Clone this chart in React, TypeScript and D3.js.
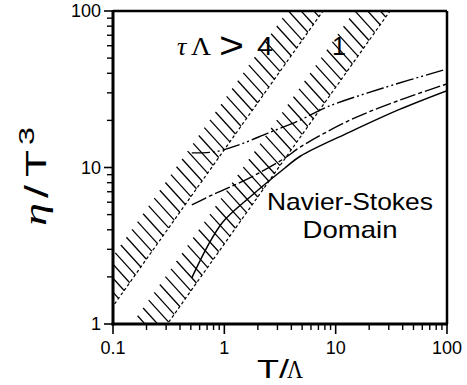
import React from 'react'
import * as d3 from 'd3'

const W = 467
const H = 385

// axes
const xMajor = [0.1, 1, 10, 100]
const xMajorLabels = ['0.1', '1', '10', '100']
const yMajor = [1, 10, 100]
const yMajorLabels = ['1', '10', '100']

// τΛ boundaries: η/T³ = k · T/Λ  (τΛ > 4 and τΛ = 1)
const bandK = [13, 3.25]

// curves
const solidT = [0.51, 0.7, 0.97, 1.7, 3.5, 4.8, 13.5, 37.9, 100]
const solidEta = [1.97, 3.1, 4.49, 6.48, 9.93, 11.8, 16.9, 23.6, 31]
const dashDotT = [0.51, 0.744, 1.125, 1.89, 3.5, 4.8, 13.5, 37.9, 100]
const dashDotEta = [5.76, 6.58, 7.5, 8.95, 11.5, 13.5, 20.1, 27, 34.2]
const dashDotDotT = [0.51, 0.825, 1.33, 2.47, 4.8, 8.4, 26.7, 100]
const dashDotDotEta = [12.4, 12.6, 13.9, 16.6, 20.1, 24.4, 32.2, 42.6]

const sans = '"Liberation Sans", Arial, Helvetica, sans-serif'
const serif = '"Liberation Serif", "DejaVu Serif", serif'

export default function App() {
    const x = d3.scaleLog().domain([0.1, 100]).range([113, 447])
    const y = d3.scaleLog().domain([1, 100]).range([324, 11])
    const [x0, x1] = x.range()
    const [y0, y1] = y.range()

    const minorOf = (majors: number[]) =>
        majors.slice(0, -1).flatMap((m) => d3.range(2, 10).map((k) => k * m))
    const xMinor = minorOf(xMajor)
    const yMinor = minorOf(yMajor)

    const line = d3
        .line<[number, number]>()
        .x((d) => x(d[0]))
        .y((d) => y(d[1]))
        .curve(d3.curveCatmullRom.alpha(0.5))

    const zip = (a: number[], b: number[]) => a.map((v, i) => [v, b[i]] as [number, number])

    // hatch bases along each boundary, every 0.05 decade in T/Λ
    const hatchLogs = d3.range(-1.4, 2.01, 0.05)
    const hatchDx = -20
    const hatchDy = -22

    return (
        <svg
            width={W}
            height={H}
            style={{ position: 'fixed', left: 0, top: 0, background: '#fff' }}
        >
            <defs>
                <clipPath id="plot">
                    <rect x={x0} y={y1} width={x1 - x0} height={y0 - y1} />
                </clipPath>
            </defs>
            <rect width={W} height={H} fill="#fff" />

            <g clipPath="url(#plot)">
                {bandK.map((k, bi) => (
                    <g key={bi}>
                        {hatchLogs.map((l, i) => {
                            const t = Math.pow(10, l)
                            const px = x(t)
                            const py = y(k * t)
                            return (
                                <line
                                    key={i}
                                    x1={px}
                                    y1={py}
                                    x2={px + hatchDx}
                                    y2={py + hatchDy}
                                    stroke="#000"
                                    strokeWidth={1.3}
                                />
                            )
                        })}
                        <line
                            x1={x(0.05)}
                            y1={y(k * 0.05)}
                            x2={x(100)}
                            y2={y(k * 100)}
                            stroke="#000"
                            strokeWidth={1.2}
                            strokeDasharray="3 2.5"
                        />
                    </g>
                ))}

                <path
                    d={line(zip(solidT, solidEta)) || ''}
                    fill="none"
                    stroke="#000"
                    strokeWidth={1.5}
                />
                <path
                    d={line(zip(dashDotT, dashDotEta)) || ''}
                    fill="none"
                    stroke="#000"
                    strokeWidth={1.4}
                    strokeDasharray="16 3 4 3"
                />
                <path
                    d={line(zip(dashDotDotT, dashDotDotEta)) || ''}
                    fill="none"
                    stroke="#000"
                    strokeWidth={1.4}
                    strokeDasharray="18 3 2 3 2 3"
                />
            </g>

            {/* frame */}
            <line x1={x0} y1={y1} x2={x1} y2={y1} stroke="#000" strokeWidth={2.5} />
            <line x1={x1} y1={y1} x2={x1} y2={y0} stroke="#000" strokeWidth={2.5} />
            <line x1={x0} y1={y0 + 1.5} x2={x0} y2={y1 - 1} stroke="#000" strokeWidth={3} />
            <line x1={x0 - 1.5} y1={y0} x2={x1 + 1} y2={y0} stroke="#000" strokeWidth={3} />

            {/* x ticks */}
            {xMajor.map((v) => (
                <line key={'xm' + v} x1={x(v)} x2={x(v)} y1={y0} y2={y0 + 10} stroke="#000" strokeWidth={1.6} />
            ))}
            {xMinor.map((v) => (
                <line key={'xn' + v} x1={x(v)} x2={x(v)} y1={y0} y2={y0 + 6} stroke="#000" strokeWidth={1.4} />
            ))}
            {xMajor.map((v, i) => (
                <text
                    key={'xl' + v}
                    x={x(v)}
                    y={354}
                    textAnchor="middle"
                    fontFamily={sans}
                    fontSize={18}
                >
                    {xMajorLabels[i]}
                </text>
            ))}

            {/* y ticks */}
            {yMajor.map((v) => (
                <line key={'ym' + v} x1={x0 - 9} x2={x0} y1={y(v)} y2={y(v)} stroke="#000" strokeWidth={1.6} />
            ))}
            {yMinor.map((v) => (
                <line key={'yn' + v} x1={x0 - 6} x2={x0} y1={y(v)} y2={y(v)} stroke="#000" strokeWidth={1.4} />
            ))}
            {yMajor.map((v, i) => (
                <text
                    key={'yl' + v}
                    x={x0 - 12}
                    y={y(v) + 6}
                    textAnchor="end"
                    fontFamily={sans}
                    fontSize={18}
                >
                    {yMajorLabels[i]}
                </text>
            ))}

            {/* band labels */}
            <text x={177} y={55} fontSize={26} fontFamily={serif} fontStyle="italic">τ</text>
            <text x={191} y={55} fontSize={25} fontFamily={serif} textLength={20} lengthAdjust="spacingAndGlyphs">Λ</text>
            <text x={219} y={58} fontSize={36} fontFamily={sans} textLength={25} lengthAdjust="spacingAndGlyphs">&gt;</text>
            <text x={257} y={55} fontSize={25} fontFamily={sans} textLength={16} lengthAdjust="spacingAndGlyphs">4</text>
            <text x={332} y={55} fontSize={25} fontFamily={sans}>
                1
            </text>

            <text x={350} y={210} textAnchor="middle" fontSize={24} fontFamily={sans} textLength={166} lengthAdjust="spacingAndGlyphs">
                Navier-Stokes
            </text>
            <text x={350} y={238} textAnchor="middle" fontSize={24} fontFamily={sans} textLength={95} lengthAdjust="spacingAndGlyphs">
                Domain
            </text>

            {/* axis titles */}
            <text x={257} y={378} fontSize={25} fontFamily={sans} textLength={22} lengthAdjust="spacingAndGlyphs">T</text>
            <text x={279} y={378} fontSize={25} fontFamily={sans} textLength={10} lengthAdjust="spacingAndGlyphs">/</text>
            <text x={287} y={378} fontSize={25} fontFamily={serif} textLength={16} lengthAdjust="spacingAndGlyphs">Λ</text>
            <g transform="translate(46,228) rotate(-90)">
                <text x={2} y={0} fontSize={32} fontFamily={serif} fontStyle="italic" textLength={23} lengthAdjust="spacingAndGlyphs">
                    η
                </text>
                <text x={30} y={2} fontSize={34} fontFamily={sans} textLength={13} lengthAdjust="spacingAndGlyphs">
                    /
                </text>
                <text x={51} y={0} fontSize={30} fontFamily={sans} textLength={27} lengthAdjust="spacingAndGlyphs">
                    T
                </text>
                <text x={83} y={-12} fontSize={22} fontFamily={sans} textLength={18} lengthAdjust="spacingAndGlyphs">
                    3
                </text>
            </g>
        </svg>
    )
}
